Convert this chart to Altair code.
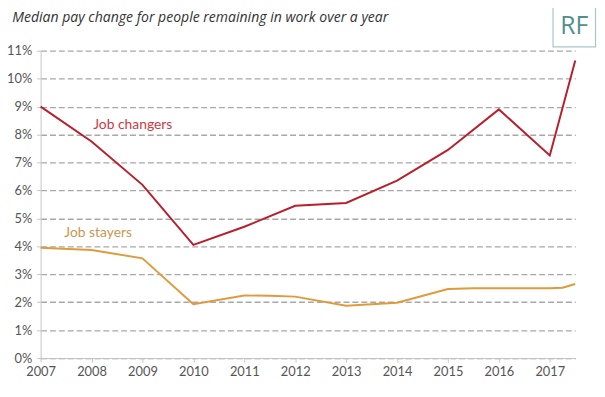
import altair as alt
import pandas as pd

# --- data ---
years_changers = [2007, 2008, 2009, 2010, 2011, 2012, 2013, 2014, 2015, 2016, 2017, 2017.5]
pay_changers = [9.0, 7.75, 6.2, 4.05, 4.7, 5.45, 5.55, 6.35, 7.45, 8.9, 7.25, 10.65]

years_stayers = [2007, 2008, 2009, 2010, 2011, 2011.5, 2012, 2013, 2014, 2015, 2015.5, 2016, 2017, 2017.25, 2017.5]
pay_stayers = [3.95, 3.87, 3.57, 1.93, 2.24, 2.23, 2.2, 1.87, 1.98, 2.47, 2.5, 2.5, 2.5, 2.52, 2.65]

series_names = ["Job changers", "Job stayers"]
series_colors = ["#b81f2d", "#e09a3c"]
label_colors = ["#cc3a47", "#c99651"]
label_x = [2008.81, 2008.13]
label_y = [8.34, 4.49]

x_ticks = list(range(2007, 2018))
y_ticks = list(range(0, 12))

title_text = "Median pay change for people remaining in work over a year"
logo_text = "RF"

rows = []
for x, v in zip(years_changers, pay_changers):
    rows.append({"year": x, "pay": v, "series": series_names[0]})
for x, v in zip(years_stayers, pay_stayers):
    rows.append({"year": x, "pay": v, "series": series_names[1]})
df = pd.DataFrame(rows)

labels_df = pd.DataFrame({"year": label_x, "pay": label_y, "label": series_names})

x_scale = alt.Scale(domain=[2007, 2017.5], nice=False, zero=False)
y_scale = alt.Scale(domain=[0, 11], nice=False)

x_axis = alt.Axis(
    values=x_ticks, format="d", title=None, grid=False,
    domainColor="#c4c4c4", tickColor="#c4c4c4", tickSize=4,
    labelColor="#555555", labelFontSize=13, labelPadding=4,
    labelFont="Lato", labelFlush=False, labelOverlap=False,
)
y_axis = alt.Axis(
    values=y_ticks, tickCount=12, title=None, labelExpr="datum.value + '%'",
    grid=True, gridDash=[6, 3], gridColor="#a8a8a8", gridWidth=1.3,
    domainColor="#c4c4c4", tickColor="#c4c4c4", tickSize=4,
    labelColor="#555555", labelFontSize=13, labelPadding=5,
    labelFont="Lato", labelOverlap=False,
)

lines = alt.Chart(df).mark_line(strokeWidth=2).encode(
    x=alt.X("year:Q", scale=x_scale, axis=x_axis),
    y=alt.Y("pay:Q", scale=y_scale, axis=y_axis),
    color=alt.Color("series:N", scale=alt.Scale(domain=series_names, range=series_colors), legend=None),
    detail="series:N",
)

labels = alt.Chart(labels_df).mark_text(
    font="Lato", fontSize=14, align="center", baseline="middle"
).encode(
    x=alt.X("year:Q", scale=x_scale, axis=x_axis),
    y=alt.Y("pay:Q", scale=y_scale, axis=y_axis),
    text="label:N",
    color=alt.Color("label:N", scale=alt.Scale(domain=series_names, range=label_colors), legend=None),
)

title = alt.Chart(pd.DataFrame({"t": [title_text]})).mark_text(
    font="Open Sans", fontSize=14.2, fontStyle="italic", align="left",
    baseline="alphabetic", color="#333333",
).encode(x=alt.value(-28.7), y=alt.value(-29), text="t:N")

logo_box = alt.Chart(pd.DataFrame({"a": [1]})).mark_rect(
    fill="white", stroke="#a9c6c6", strokeWidth=1.2
).encode(x=alt.value(518.5), x2=alt.value(561.5), y=alt.value(-46), y2=alt.value(-4))

logo = alt.Chart(pd.DataFrame({"t": [logo_text]})).mark_text(
    font="Open Sans", fontSize=25, align="center", baseline="middle",
    color="#4f8f8f",
).encode(x=alt.value(540), y=alt.value(-24.5), text="t:N")

chart = alt.layer(lines, labels, title, logo_box, logo).resolve_scale(
    color="independent"
).properties(
    width=541, height=311,
    autosize=alt.AutoSizeParams(type="none"),
    padding={"left": 33, "top": 41, "right": 22, "bottom": 26},
).configure_view(stroke=None)

chart.save("out.html", embed_options={"renderer": "svg", "actions": False})
